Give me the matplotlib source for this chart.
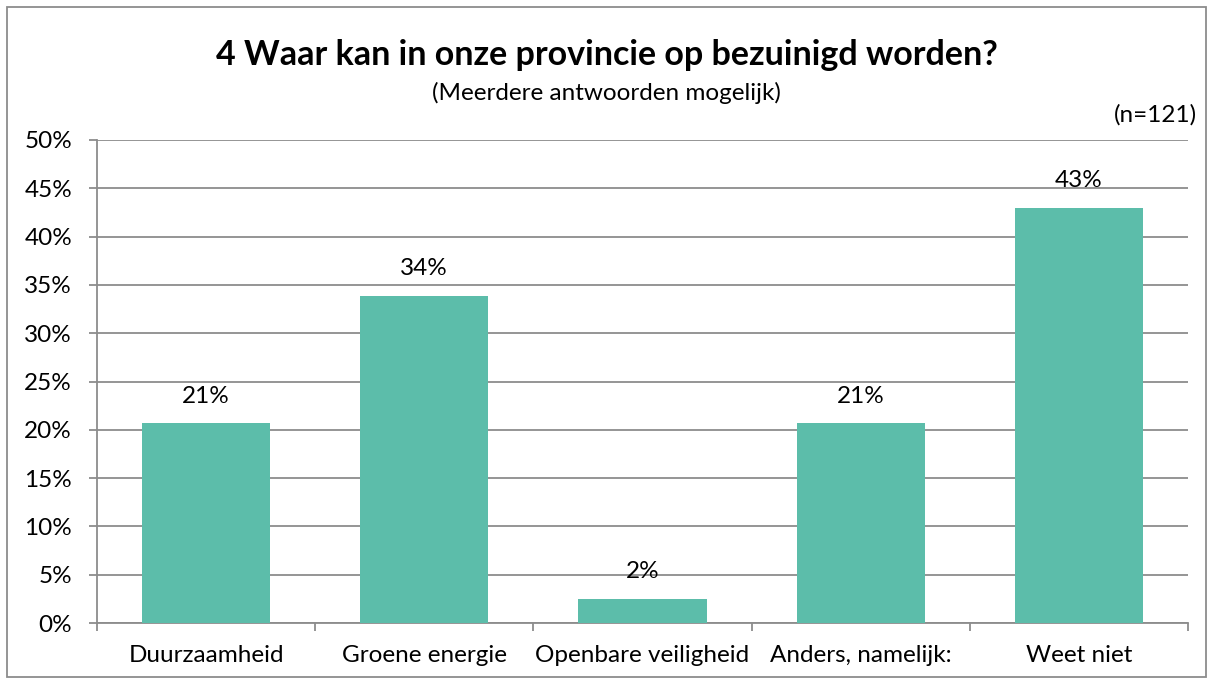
import matplotlib.pyplot as plt
import numpy as np
from matplotlib.patches import Rectangle

plt.rcParams['font.family'] = ['Lato', 'DejaVu Sans']

categories = ['Duurzaamheid', 'Groene energie', 'Openbare veiligheid', 'Anders, namelijk:', 'Weet niet']
values = [20.66, 33.88, 2.48, 20.66, 42.98]  # percent, n=121
labels = ['21%', '34%', '2%', '21%', '43%']
yticks = np.arange(0, 51, 5)

bar_color = '#5CBDAA'
grid_color = '#8C8C8C'
fs = 17.5

fig = plt.figure(figsize=(12.13, 6.84), dpi=100)
ax = fig.add_axes([97/1213, 1-623/684, 1091/1213, 483/684])

x = np.arange(len(categories))
ax.bar(x, values, width=0.588, color=bar_color, zorder=3)

for xi, v, lab in zip(x, values, labels):
    ax.annotate(lab, (xi, v), xytext=(0, 12), textcoords='offset points',
                ha='center', va='bottom', fontsize=fs, color='black', zorder=4)

ax.set_xlim(-0.5, len(categories)-0.5)
ax.set_ylim(0, 50)
ax.set_yticks(yticks)
ax.set_yticklabels([f'{t}%' for t in yticks], fontsize=fs)
ax.yaxis.grid(True, color=grid_color, linewidth=1.3, zorder=0)
ax.tick_params(axis='y', length=6, width=1.3, color=grid_color, pad=12)

ax.set_xticks(x)
ax.set_xticklabels(categories, fontsize=fs)
ax.set_xticks(np.arange(-0.5, len(categories)), minor=True)
ax.tick_params(axis='x', which='major', length=0, pad=16)
ax.tick_params(axis='x', which='minor', length=6, width=1.3, color=grid_color)

for s in ['top', 'right']:
    ax.spines[s].set_visible(False)
for s in ['left', 'bottom']:
    ax.spines[s].set_color(grid_color)
    ax.spines[s].set_linewidth(1.3)

fig.text(0.5, 1-55/684, '4 Waar kan in onze provincie op bezuinigd worden?',
         ha='center', va='center', fontsize=24.5, fontweight='bold')
fig.text(0.5, 1-93/684, '(Meerdere antwoorden mogelijk)', ha='center', va='center', fontsize=fs)
fig.text(1197/1213, 1-115/684, '(n=121)', ha='right', va='center', fontsize=fs)

fig.patches.append(Rectangle((7/1213, 7/684), 1-14/1213, 1-14/684, transform=fig.transFigure,
                             fill=False, edgecolor='#8C8C8C', linewidth=1.3))

fig.savefig('out.png', dpi=100)
